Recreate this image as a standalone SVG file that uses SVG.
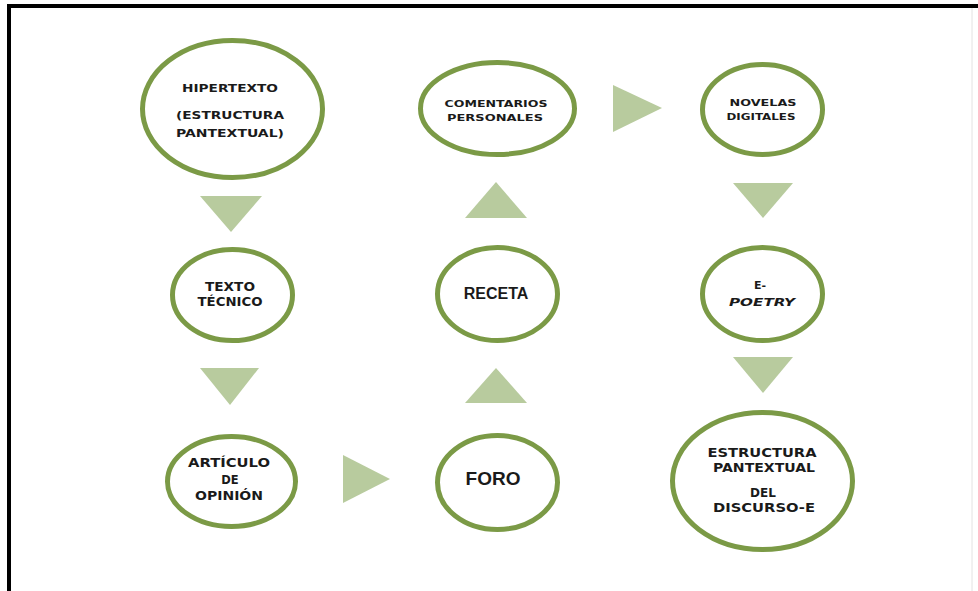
<svg xmlns="http://www.w3.org/2000/svg" width="978" height="591" viewBox="0 0 978 591">
<defs>
<style>
.n{fill:#ffffff;stroke:#7b9a46;stroke-width:5}
.t{font-family:"DejaVu Sans","Liberation Sans",sans-serif;font-weight:bold;fill:#1a1a1a;text-anchor:middle}
.b{font-family:"Liberation Sans",Arial,sans-serif;font-weight:bold;fill:#1a1a1a;text-anchor:middle}
.a{fill:#b8cb9e}
</style>
</defs>
<rect x="0" y="0" width="978" height="591" fill="#ffffff"/>
<g id="frame">
<rect x="7" y="4" width="971" height="4" fill="#000000"/>
<rect x="7" y="4" width="4" height="587" fill="#000000"/>
<line x1="972" y1="8" x2="972" y2="591" stroke="#e2e2e2" stroke-width="1"/>
</g>
<g id="connectors">
<polygon class="a" points="200,196 262,196 231,232"/>
<polygon class="a" points="200,368 259,368 230,405"/>
<polygon class="a" points="343,455 390,479 343,503"/>
<polygon class="a" points="465,403 527,403 496,368"/>
<polygon class="a" points="465,218 527,218 496,182"/>
<polygon class="a" points="613,85 662,108 613,132"/>
<polygon class="a" points="733,183 793,183 763,218"/>
<polygon class="a" points="733,357 793,357 763,393"/>
</g>
<g id="hipertexto">
<ellipse class="n" cx="232.5" cy="109" rx="90" ry="68.5"/>
<text class="t" font-size="11" x="230" y="92" textLength="96" lengthAdjust="spacingAndGlyphs">HIPERTEXTO</text>
<text class="t" font-size="11" x="230" y="119" textLength="108" lengthAdjust="spacingAndGlyphs">(ESTRUCTURA</text>
<text class="t" font-size="11" x="230" y="137" textLength="108" lengthAdjust="spacingAndGlyphs">PANTEXTUAL)</text>
</g>
<g id="comentarios">
<ellipse class="n" cx="497.5" cy="108.5" rx="77" ry="46"/>
<text class="t" font-size="9.5" x="496" y="107" textLength="103" lengthAdjust="spacingAndGlyphs">COMENTARIOS</text>
<text class="t" font-size="9.5" x="495" y="121" textLength="96" lengthAdjust="spacingAndGlyphs">PERSONALES</text>
</g>
<g id="novelas">
<ellipse class="n" cx="762.5" cy="109.5" rx="60" ry="45"/>
<text class="t" font-size="9.5" x="763" y="106" textLength="67" lengthAdjust="spacingAndGlyphs">NOVELAS</text>
<text class="t" font-size="9.5" x="761" y="120" textLength="69" lengthAdjust="spacingAndGlyphs">DIGITALES</text>
</g>
<g id="epoetry">
<ellipse class="n" cx="762.5" cy="294" rx="60" ry="46.5"/>
<text class="t" font-size="11" x="760" y="289">E-</text>
<text class="t" font-size="11" font-style="italic" x="762" y="306" textLength="66" lengthAdjust="spacingAndGlyphs">POETRY</text>
</g>
<g id="estructura">
<ellipse class="n" cx="762.5" cy="481" rx="90" ry="68.5"/>
<text class="t" font-size="12" x="762" y="457" textLength="109" lengthAdjust="spacingAndGlyphs">ESTRUCTURA</text>
<text class="t" font-size="12" x="764" y="472" textLength="102" lengthAdjust="spacingAndGlyphs">PANTEXTUAL</text>
<text class="t" font-size="12" x="763" y="497">DEL</text>
<text class="t" font-size="12" x="764" y="512" textLength="102" lengthAdjust="spacingAndGlyphs">DISCURSO-E</text>
</g>
<g id="texto-tecnico">
<ellipse class="n" cx="232.5" cy="295" rx="60" ry="45.5"/>
<text class="t" font-size="11.5" x="230" y="291" textLength="50" lengthAdjust="spacingAndGlyphs">TEXTO</text>
<text class="t" font-size="11.5" x="230" y="306" textLength="65" lengthAdjust="spacingAndGlyphs">TÉCNICO</text>
</g>
<g id="articulo">
<ellipse class="n" cx="231.5" cy="481.5" rx="64" ry="45"/>
<text class="t" font-size="11.5" x="229" y="467" textLength="82" lengthAdjust="spacingAndGlyphs">ARTÍCULO</text>
<text class="t" font-size="11.5" x="230" y="484">DE</text>
<text class="t" font-size="11.5" x="229" y="500" textLength="68" lengthAdjust="spacingAndGlyphs">OPINIÓN</text>
</g>
<g id="receta">
<ellipse class="n" cx="497.5" cy="294" rx="60" ry="46.5"/>
<text class="b" font-size="16" x="496" y="299">RECETA</text>
</g>
<g id="foro">
<ellipse class="n" cx="497.5" cy="482.5" rx="60" ry="47"/>
<text class="b" font-size="19" x="493" y="485">FORO</text>
</g>
</svg>
